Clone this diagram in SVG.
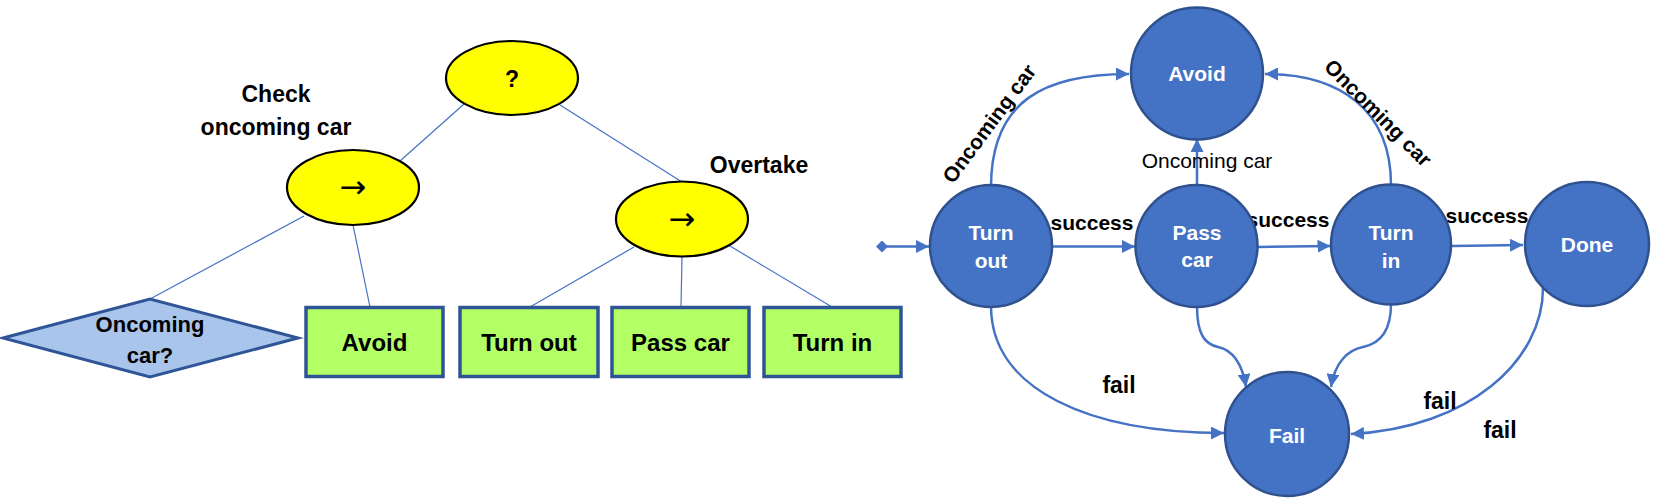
<svg xmlns="http://www.w3.org/2000/svg" width="1654" height="499" viewBox="0 0 1654 499">
<defs>
<style>
text{font-family:"Liberation Sans",Arial,sans-serif;font-weight:bold;text-anchor:middle;fill:#000}
.tl{stroke:#4472c4;stroke-width:1.2;fill:none}
.sel{fill:#ffff00;stroke:#000;stroke-width:2.2}
.box{fill:#b3ff66;stroke:#2f5597;stroke-width:3.5}
.st{fill:#4472c4;stroke:#2f528f;stroke-width:2.5}
.st-t{fill:#fff;font-size:21px}
.e{stroke:#4472c4;stroke-width:2.5;fill:none;marker-end:url(#ah)}
.lbl{font-size:21px}
.arr{font-family:"DejaVu Sans",sans-serif;font-weight:normal;font-size:32px}
</style>
<marker id="ah" markerUnits="userSpaceOnUse" markerWidth="14" markerHeight="13" refX="13" refY="6.5" orient="auto">
<path d="M0,0 L13,6.5 L0,13 z" fill="#4472c4"/>
</marker>
<marker id="dm" markerUnits="userSpaceOnUse" markerWidth="12" markerHeight="12" refX="6" refY="6" orient="auto">
<path d="M0,6 L6,0 L12,6 L6,12 z" fill="#4472c4"/>
</marker>
</defs>
<rect width="1654" height="499" fill="#fff"/>

<g id="tree-connectors">
<line class="tl" x1="464" y1="104" x2="400" y2="161"/>
<line class="tl" x1="560" y1="105" x2="682" y2="182"/>
<line class="tl" x1="304" y1="216" x2="150" y2="299"/>
<line class="tl" x1="353" y1="225" x2="370" y2="307"/>
<line class="tl" x1="634" y1="247" x2="530" y2="307"/>
<line class="tl" x1="682" y1="257" x2="681" y2="307"/>
<line class="tl" x1="730" y1="246" x2="832" y2="307"/>
</g>

<g id="root-selector">
<ellipse class="sel" cx="512" cy="78" rx="66" ry="37"/>
<text x="512" y="87" font-size="23">?</text>
</g>
<g id="check-sequence">
<ellipse class="sel" cx="353" cy="187.5" rx="66" ry="37.5"/>
<text class="arr" x="353" y="198">→</text>
<text x="276" y="102" font-size="23">Check</text>
<text x="276" y="135" font-size="23">oncoming car</text>
</g>
<g id="overtake-sequence">
<ellipse class="sel" cx="682" cy="219" rx="66" ry="37.5"/>
<text class="arr" x="682" y="230">→</text>
<text x="759" y="173" font-size="23">Overtake</text>
</g>
<g id="oncoming-condition">
<polygon points="3,338 150,299 298,338 150,377" fill="#a9c5eb" stroke="#2f5597" stroke-width="3"/>
<text x="150" y="332" font-size="22">Oncoming</text>
<text x="150" y="363" font-size="22">car?</text>
</g>
<g id="avoid-action">
<rect class="box" x="306" y="307.5" width="137" height="69"/>
<text x="374.5" y="351" font-size="24">Avoid</text>
</g>
<g id="turnout-action">
<rect class="box" x="460" y="307.5" width="138" height="69"/>
<text x="529" y="351" font-size="24">Turn out</text>
</g>
<g id="passcar-action">
<rect class="box" x="612" y="307.5" width="137" height="69"/>
<text x="680.5" y="351" font-size="24">Pass car</text>
</g>
<g id="turnin-action">
<rect class="box" x="764" y="307.5" width="137" height="69"/>
<text x="832.5" y="351" font-size="24">Turn in</text>
</g>

<g id="fsm-connectors">
<path d="M882,246.5 L929,246.5" stroke="#4472c4" stroke-width="2.5" fill="none" marker-start="url(#dm)" marker-end="url(#ah)"/>
<path class="e" d="M1052,246.5 L1135,246.5"/>
<path class="e" d="M1258,247 L1330.5,246"/>
<path class="e" d="M1452,246 L1523,245"/>
<path class="e" d="M991,187 C991,100 1045,74 1129,74"/>
<path class="e" d="M1391,185 C1391,110 1340,74 1265,74"/>
<path class="e" d="M1197,186 L1197,139"/>
<path class="e" d="M991,306 C991,390 1090,433 1224,433"/>
<path class="e" d="M1197,306 C1197,335 1205,344 1218,347 C1232,350 1242,362 1246,387"/>
<path class="e" d="M1391,304 C1391,333 1378,344 1363,347 C1348,350 1335,362 1331,387"/>
<path class="e" d="M1543,288 C1543,360 1470,428 1351,434"/>
<text class="lbl" x="1092" y="230">success</text>
<text class="lbl" x="1288" y="227">success</text>
<text class="lbl" x="1487" y="223">success</text>
<text x="1207" y="168" font-size="21" style="font-weight:normal">Oncoming car</text>
<text class="lbl" transform="translate(995,128) rotate(-53.5)">Oncoming car</text>
<text class="lbl" transform="translate(1373,118) rotate(45)">Oncoming car</text>
<text x="1119" y="393" font-size="23">fail</text>
<text x="1440" y="409" font-size="23">fail</text>
<text x="1500" y="438" font-size="23">fail</text>
</g>

<g id="state-avoid">
<circle class="st" cx="1197" cy="73.5" r="66"/>
<text class="st-t" x="1197" y="81">Avoid</text>
</g>
<g id="state-turnout">
<circle class="st" cx="991" cy="246" r="61"/>
<text class="st-t" x="991" y="240" font-size="22">Turn</text>
<text class="st-t" x="991" y="268" font-size="22">out</text>
</g>
<g id="state-passcar">
<circle class="st" cx="1196.5" cy="246" r="61"/>
<text class="st-t" x="1197" y="240">Pass</text>
<text class="st-t" x="1197" y="267">car</text>
</g>
<g id="state-turnin">
<circle class="st" cx="1391" cy="244.5" r="60"/>
<text class="st-t" x="1391" y="240" font-size="22">Turn</text>
<text class="st-t" x="1391" y="268" font-size="22">in</text>
</g>
<g id="state-done">
<circle class="st" cx="1587" cy="244" r="62"/>
<text class="st-t" x="1587" y="252" font-size="20">Done</text>
</g>
<g id="state-fail">
<circle class="st" cx="1287" cy="434" r="62"/>
<text class="st-t" x="1287" y="443" font-size="22">Fail</text>
</g>
</svg>
